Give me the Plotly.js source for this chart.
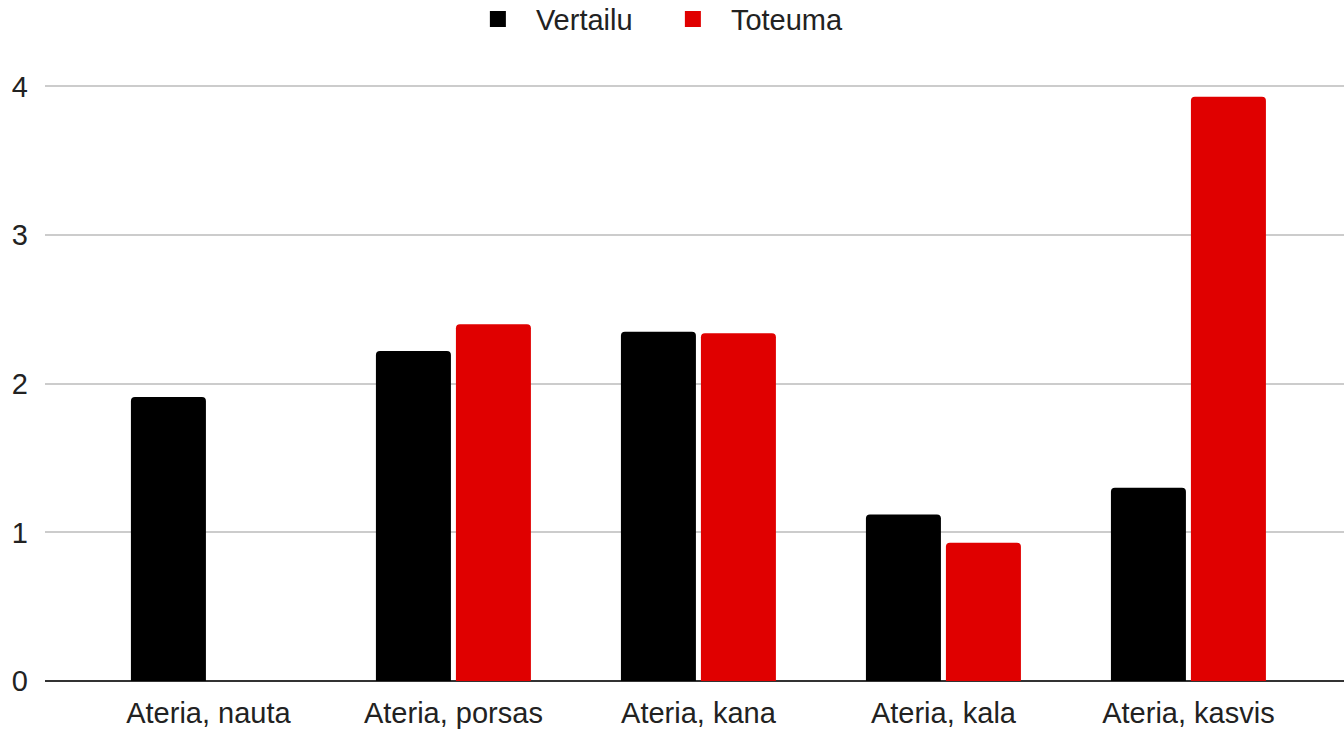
<!DOCTYPE html>
<html>
<head>
<meta charset="utf-8">
<script src="https://cdn.plot.ly/plotly-3.0.1.min.js"></script>
<style>html,body{margin:0;padding:0;background:#fff;}#chart{width:1344px;height:731px;}</style>
</head>
<body>
<div id="chart"></div>
<script>
const categories = ["Ateria, nauta", "Ateria, porsas", "Ateria, kana", "Ateria, kala", "Ateria, kasvis"];
const vertailu = [1.91, 2.22, 2.35, 1.12, 1.30];
const toteuma = [null, 2.40, 2.34, 0.93, 3.93];
const yTicks = [0, 1, 2, 3, 4];
const seriesNames = ["Vertailu", "Toteuma"];
const seriesColors = ["#000000", "#e00000"];

const font = {family: "Liberation Sans, Arial, sans-serif", size: 29, color: "#222222"};

const traces = [
  {type: "bar", name: seriesNames[0], x: categories, y: vertailu, marker: {color: seriesColors[0], cornerradius: 4}, showlegend: false},
  {type: "bar", name: seriesNames[1], x: categories, y: toteuma, marker: {color: seriesColors[1], cornerradius: 4}, showlegend: false},
  {type: "scatter", mode: "markers", name: seriesNames[0], x: [null], y: [null], marker: {symbol: "square", size: 22, color: seriesColors[0]}, showlegend: true},
  {type: "scatter", mode: "markers", name: seriesNames[1], x: [null], y: [null], marker: {symbol: "square", size: 22, color: seriesColors[1]}, showlegend: true}
];

const layout = {
  width: 1344, height: 731,
  margin: {l: 45, r: 0, t: 82, b: 50, pad: 0, autoexpand: false},
  paper_bgcolor: "#ffffff", plot_bgcolor: "#ffffff",
  font: font,
  barmode: "group",
  bargap: 0.347,
  bargroupgap: 0.0625,
  showlegend: true,
  legend: {orientation: "h", x: 0.4695, xanchor: "center", y: 1.105, yanchor: "middle", font: font, itemwidth: 66, entrywidth: 114, entrywidthmode: "pixels", traceorder: "normal", bgcolor: "rgba(0,0,0,0)"},
  xaxis: {
    type: "category", range: [-0.667, 4.635], showgrid: false, zeroline: false,
    showline: false, ticks: "", tickfont: font, automargin: false, ticklabelstandoff: 12
  },
  yaxis: {
    range: [0, 4.03], tickvals: yTicks, ticktext: yTicks.map(String), showgrid: true,
    gridcolor: "#cccccc", gridwidth: 2, zeroline: true, zerolinecolor: "#333333", zerolinewidth: 2,
    showline: false, ticks: "", ticklabelstandoff: 16, tickfont: font, automargin: false
  }
};

Plotly.newPlot("chart", traces, layout, {displayModeBar: false, staticPlot: true});
</script>
</body>
</html>
